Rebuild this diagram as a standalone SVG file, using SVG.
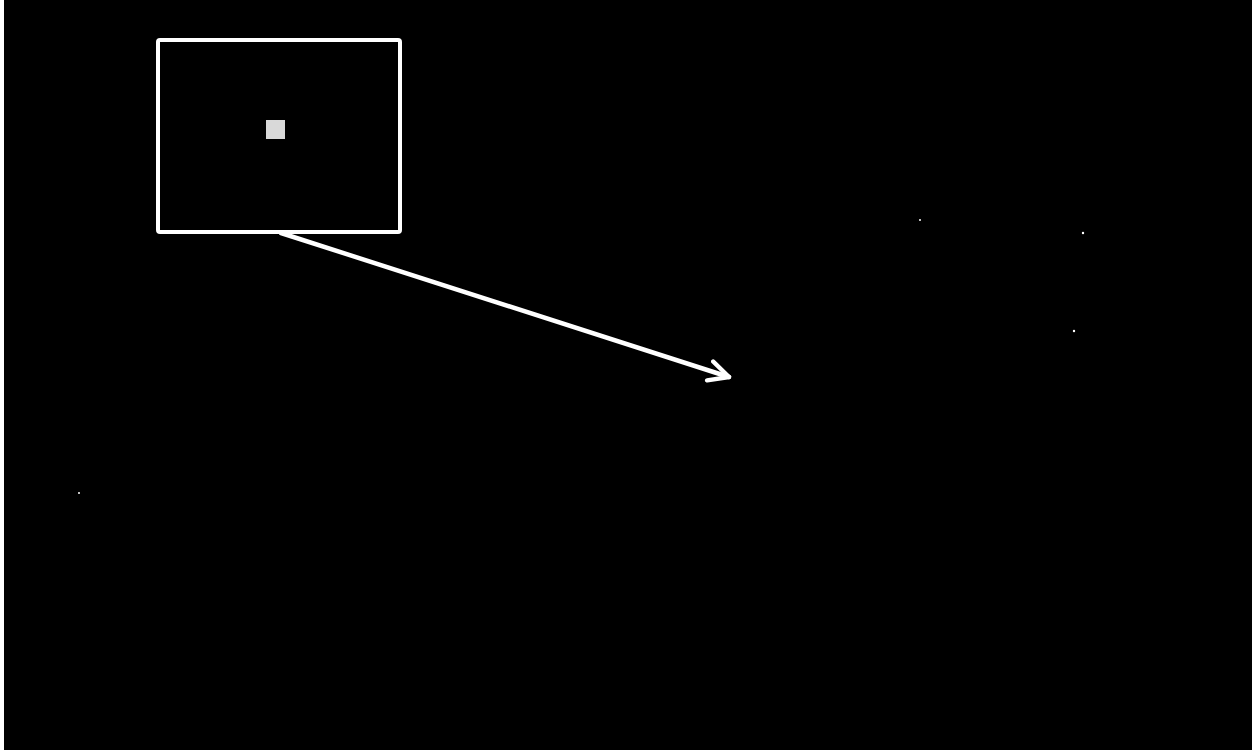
<svg xmlns="http://www.w3.org/2000/svg" width="1252" height="750" viewBox="0 0 1252 750">
<style>
.frame{fill:none;stroke:#fff;stroke-width:4}
.conn{fill:none;stroke:#fff;stroke-width:4.5;stroke-linecap:round;stroke-linejoin:round}
.star{fill:#fff}
</style>
<defs>
<marker id="arr" viewBox="0 0 10 10" refX="9" refY="5" markerWidth="5.5" markerHeight="5.5" orient="auto" markerUnits="strokeWidth">
<path d="M1,1 L9,5 L1,9" fill="none" stroke="#fff" stroke-width="1.8" stroke-linecap="round" stroke-linejoin="round"/>
</marker>
</defs>
<rect x="0" y="0" width="1252" height="750" fill="#fff"/>
<rect x="4" y="0" width="1248" height="750" fill="#000"/>
<g id="frame-node">
<rect class="frame" x="158" y="40" width="242" height="192" rx="2"/>
<rect x="266" y="120" width="19" height="19" fill="#d9d9d9"/>
</g>
<g id="stars">
<circle class="star" cx="920" cy="220" r="1"/>
<circle class="star" cx="1083" cy="233" r="1.2"/>
<circle class="star" cx="1074" cy="331" r="1.2"/>
<circle class="star" cx="79" cy="493" r="1"/>
</g>
<g id="connectors">
<line class="conn" x1="281" y1="233" x2="729" y2="377" marker-end="url(#arr)"/>
</g>
</svg>
